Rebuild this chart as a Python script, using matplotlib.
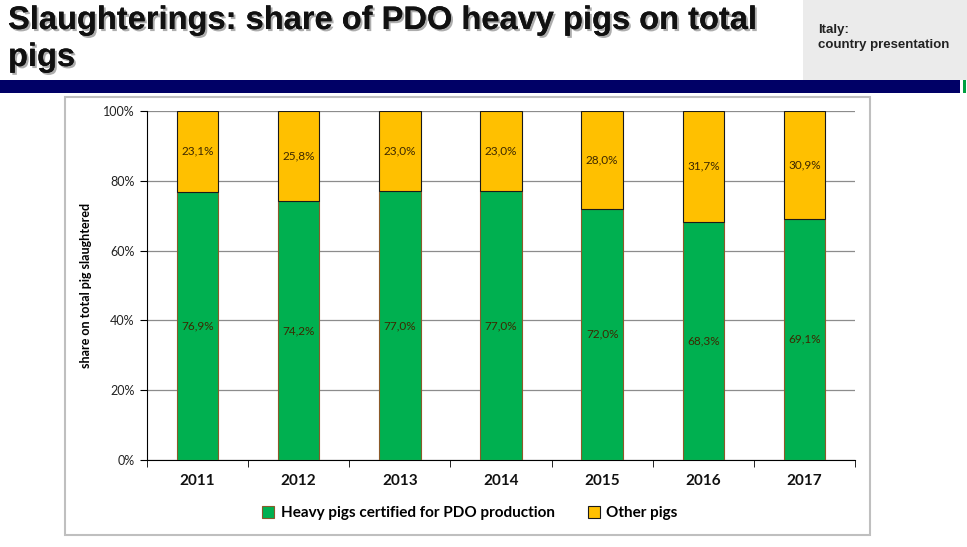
import matplotlib
matplotlib.use("Agg")
import matplotlib.pyplot as plt
import matplotlib.patheffects as pe
from matplotlib.patches import Rectangle
import numpy as np

years = ["2011", "2012", "2013", "2014", "2015", "2016", "2017"]
pdo = [76.9, 74.2, 77.0, 77.0, 72.0, 68.3, 69.1]
other = [23.1, 25.8, 23.0, 23.0, 28.0, 31.7, 30.9]
pdo_labels = ["76,9%", "74,2%", "77,0%", "77,0%", "72,0%", "68,3%", "69,1%"]
other_labels = ["23,1%", "25,8%", "23,0%", "23,0%", "28,0%", "31,7%", "30,9%"]
yticks = [0, 20, 40, 60, 80, 100]
ytick_labels = ["0%", "20%", "40%", "60%", "80%", "100%"]

W, H = 967, 547
fig = plt.figure(figsize=(W / 100, H / 100), dpi=100)
fig.patch.set_facecolor("white")

def fx(x):
    return x / W

def fy(y):
    return 1 - y / H

# header elements
fig.patches.append(Rectangle((fx(803), fy(80)), fx(W - 803), 80 / H,
                             transform=fig.transFigure, facecolor="#ebebeb",
                             edgecolor="none", zorder=0))
fig.patches.append(Rectangle((0, fy(93)), fx(960), 13 / H,
                             transform=fig.transFigure, facecolor="#000066",
                             edgecolor="none", zorder=1))
fig.patches.append(Rectangle((fx(963), fy(93)), fx(3), 13 / H,
                             transform=fig.transFigure, facecolor="#00a040",
                             edgecolor="none", zorder=1))

head_font = ["Liberation Sans", "DejaVu Sans"]
fig.text(fx(8), fy(5), "Slaughterings: share of PDO heavy pigs on total\npigs",
         ha="left", va="top", fontsize=23.5, fontweight="bold",
         family=head_font, color="#111111", linespacing=1.25,
         path_effects=[pe.withSimplePatchShadow(offset=(1.5, -1.5), shadow_rgbFace="#999999", alpha=0.8),
                       pe.Normal()])
fig.text(fx(818), fy(24), "Italy:\ncountry presentation", ha="left", va="top",
         fontsize=9.5, fontweight="bold", family=head_font,
         color="#222222", linespacing=1.35)

# chart border
fig.patches.append(Rectangle((fx(65), fy(535)), fx(870 - 65), (535 - 97) / H,
                             transform=fig.transFigure, facecolor="white",
                             edgecolor="#bfbfbf", linewidth=1.5, zorder=0))

ax = fig.add_axes([fx(147), fy(460), fx(855 - 147), (460 - 111) / H])
ax.set_zorder(5)
ax.set_facecolor("none")
x = np.arange(len(years))
green = "#00B050"
yellow = "#FFC000"
b1 = ax.bar(x, pdo, width=0.41, color=green, edgecolor="#8a5a2a", linewidth=0.8, zorder=3,
            label="Heavy pigs certified for PDO production")
b2 = ax.bar(x, other, width=0.41, bottom=pdo, color=yellow, edgecolor="#1a1a1a", linewidth=0.8,
            zorder=3, label="Other pigs")

lab_font = ["Lato", "DejaVu Sans"]
for i in range(len(years)):
    ax.text(x[i], pdo[i] / 2, pdo_labels[i], ha="center", va="center", fontsize=8.5,
            color="#3d2800", family=lab_font, zorder=4)
    ax.text(x[i], pdo[i] + other[i] / 2, other_labels[i], ha="center", va="center",
            fontsize=8.5, color="#3d2800", family=lab_font, zorder=4)

ax.set_xlim(-0.5, len(years) - 0.5)
ax.set_ylim(0, 100)
ax.set_yticks(yticks)
ax.set_yticklabels(ytick_labels, fontsize=9, family=lab_font, color="#222222")
ax.set_xticks(x)
ax.set_xticklabels(years, fontsize=11, fontweight="bold", family=lab_font, color="#111111")
ax.tick_params(axis="x", length=0, pad=10)
ax.set_xticks(np.arange(len(years) + 1) - 0.5, minor=True)
ax.tick_params(axis="x", which="minor", length=5, direction="out", color="black")
ax.tick_params(axis="y", length=5, direction="out", color="black", pad=4)
ax.yaxis.grid(True, color="#8c8c8c", linewidth=0.9, zorder=0)
ax.set_axisbelow(True)
for s in ["top", "right"]:
    ax.spines[s].set_visible(False)
ax.spines["left"].set_color("black")
ax.spines["bottom"].set_color("black")
ax.set_ylabel("share on total pig slaughtered", fontsize=9, fontweight="bold",
              family=lab_font, labelpad=8)

leg = fig.legend(handles=[b1, b2], loc="center", bbox_to_anchor=(fx(470), fy(513)), ncol=2,
                 frameon=False, prop={"family": lab_font, "weight": "bold", "size": 11},
                 handlelength=0.8, handleheight=0.8, handletextpad=0.4, columnspacing=2.2)

fig.savefig("out.png", dpi=100)
